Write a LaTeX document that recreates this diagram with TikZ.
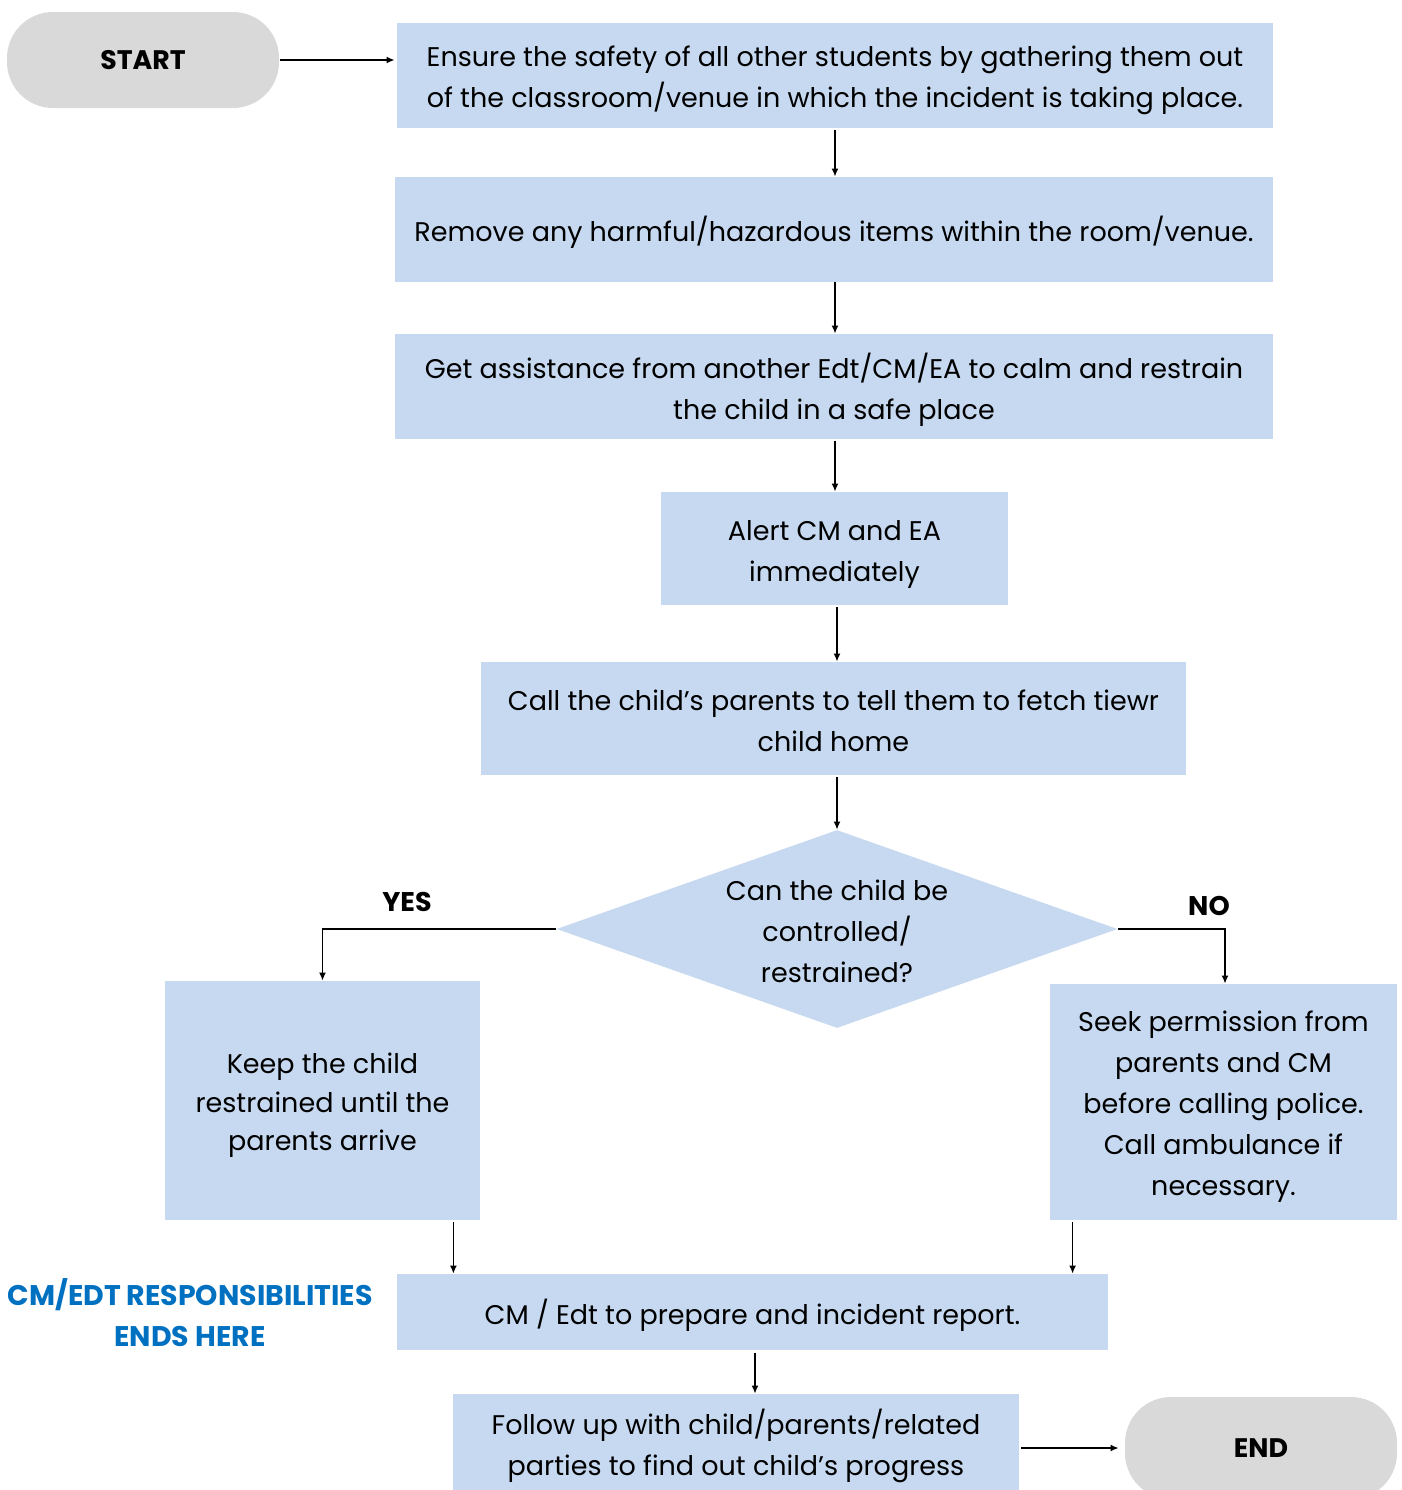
\documentclass[tikz,border=0pt]{standalone}
\usepackage{fontspec}
\setmainfont{Poppins}
\usetikzlibrary{shapes.geometric,arrows.meta,calc}
\definecolor{boxblue}{HTML}{C6D9F0}
\definecolor{termgray}{HTML}{D9D9D9}
\definecolor{noteblue}{HTML}{0070C0}
\tikzset{
  stepbox/.style={fill=boxblue, draw=none, inner sep=0pt},
  steptext/.style={inner sep=0pt, align=center,
    font=\fontsize{13.5}{20.5}\selectfont},
  terminal/.style={fill=termgray, draw=none, rounded corners=23pt, inner sep=0pt,
    minimum width=136pt, minimum height=48pt, font=\fontsize{13.4}{17}\selectfont\bfseries},
  arr/.style={-{Latex[length=4pt,width=3.5pt]}, line width=0.75pt},
  lbl/.style={font=\fontsize{13.5}{17}\selectfont\bfseries}
}
\begin{document}
\begin{tikzpicture}[x=0.5pt,y=-0.5pt]
\useasboundingbox (0,0) rectangle (1402,1490);
\clip (0,0) rectangle (1402,1490);

% terminals
\node[terminal] (start) at (143,60) {START};
\node[terminal, minimum height=51pt] (end) at (1261,1448) {END};

% process steps: filled box, then its text
\node[stepbox, minimum width=438pt, minimum height=52.5pt] (s1) at (835,75.5) {};
\node[steptext] (s1t) at ($(s1)+(0,5)$)
  {Ensure the safety of all other students by gathering them out\\of the classroom/venue in which the incident is taking place.};
\node[stepbox, minimum width=439pt, minimum height=52.5pt] (s2) at (834,229.5) {};
\node[steptext] (s2t) at ($(s2)+(0,3)$)
  {Remove any harmful/hazardous items within the room/venue.};
\node[stepbox, minimum width=439pt, minimum height=52.5pt] (s3) at (834,386.5) {};
\node[steptext] (s3t) at ($(s3)+(0,3)$)
  {Get assistance from another Edt/CM/EA to calm and restrain\\the child in a safe place};
\node[stepbox, minimum width=173.5pt, minimum height=56.5pt] (s4) at (834.5,548.5) {};
\node[steptext] (s4t) at ($(s4)+(0,6)$)
  {Alert CM and EA\\immediately};
\node[stepbox, minimum width=352.5pt, minimum height=56.5pt] (s5) at (833.5,718.5) {};
\node[steptext] (s5t) at ($(s5)+(0,2)$)
  {Call the child’s parents to tell them to fetch tiewr\\child home};

% decision
\node[diamond, fill=boxblue, draw=none, inner sep=0pt, aspect=2.83,
  minimum width=280.5pt, minimum height=99pt] (q) at (837,929) {};
\node[steptext] (qt) at (837,931) {Can the child be\\controlled/\\restrained?};

% branches
\node[stepbox, minimum width=157.5pt, minimum height=119.5pt] (keep) at (322.5,1100.5) {};
\node[steptext] (keept) at ($(keep)+(0,5)$)
  {Keep the child\\[-1.25pt]restrained until the\\[-1.25pt]parents arrive};
\node[stepbox, minimum width=173.5pt, minimum height=118pt] (seek) at (1223.5,1102) {};
\node[steptext] (seekt) at ($(seek)+(0,5)$)
  {Seek permission from\\parents and CM\\before calling police.\\Call ambulance if\\necessary.};

\node[stepbox, minimum width=355.5pt, minimum height=38pt] (rep) at (752.5,1312) {};
\node[steptext] (rept) at ($(rep)+(0,3)$)
  {CM / Edt to prepare and incident report.};
\node[stepbox, minimum width=283pt, minimum height=51pt] (fin) at (736,1445) {};
\node[steptext] (fint) at ($(fin)+(0,1)$)
  {Follow up with child/parents/related\\parties to find out child’s progress};

% labels
\node[lbl] (yes) at (407,902) {YES};
\node[lbl] (no) at (1209,906) {NO};
\node[lbl, text=noteblue, align=center, font=\fontsize{14.2}{20.5}\selectfont\bfseries] (note) at (190,1313)
  {CM/EDT RESPONSIBILITIES\\ENDS HERE};

% connectors (vertical ones kept straight with |-)
\draw[arr] (start.east) ++(1,0) coordinate (a0) (a0) -- ([xshift=-1pt]s1.west |- a0);
\draw[arr] ([yshift=-1pt]s1.south) coordinate (c1) (c1) -- (c1 |- s2.north);
\draw[arr] ([xshift=0.5pt]s2.south) coordinate (c2) (c2) -- (c2 |- s3.north);
\draw[arr] ([xshift=0.5pt,yshift=-1pt]s3.south) coordinate (c3) (c3) -- (c3 |- s4.north);
\draw[arr] ([yshift=-1pt]s4.south -| q.north) coordinate (c4) (c4) -- (c4 |- s5.north);
\draw[arr] ([yshift=-1pt]s5.south -| q.north) coordinate (c5) (c5) -- (q.north);
\draw[arr] (q.west) -| (keep.north);
\draw[arr] (q.east) -| ([xshift=0.75pt]seek.north);
\draw[arr] ([xshift=-13.5pt,yshift=-1pt]keep.south east) coordinate (k0)
  (k0) -- (k0 |- rep.north);
\draw[arr] ([xshift=11.5pt,yshift=-1pt]seek.south west) coordinate (r0)
  (r0) -- (r0 |- rep.north);
\draw[arr] ([xshift=1.25pt,yshift=-1.5pt]rep.south) coordinate (p0)
  (p0) -- (p0 |- fin.north);
\draw[arr] ([xshift=1pt,yshift=-1.5pt]fin.east) coordinate (f0)
  (f0) -- ([xshift=-3pt]end.west |- f0);
\end{tikzpicture}
\end{document}
